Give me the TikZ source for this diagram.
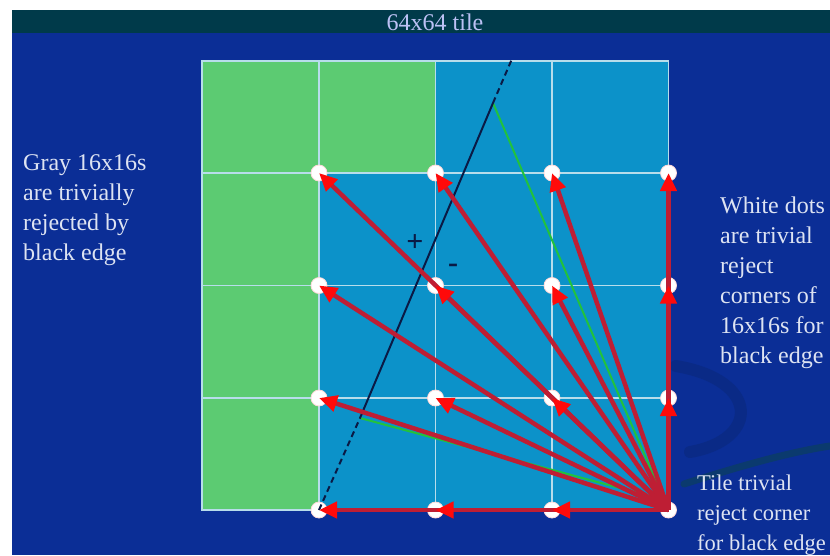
\documentclass[tikz,border=0pt]{standalone}
\usepackage{fontspec}
\setmainfont{Liberation Serif}
\usetikzlibrary{arrows.meta}
\definecolor{bgblue}{HTML}{0B2E96}
\definecolor{hdr}{HTML}{003A4A}
\definecolor{tgreen}{HTML}{5CCB72}
\definecolor{tblue}{HTML}{0C92C9}
\definecolor{gridc}{HTML}{B8DDEB}
\definecolor{arrline}{HTML}{BE1E34}
\definecolor{arrhead}{HTML}{FF0A0A}
\definecolor{edgec}{HTML}{0A1A45}
\definecolor{gline}{HTML}{22C23C}
\definecolor{txt}{HTML}{DDE3F2}
\definecolor{swooshc}{HTML}{0A2A86}
\definecolor{swoosht}{HTML}{0B3A6E}
\begin{document}
\begin{tikzpicture}[x=1pt,y=-1pt,
  dotnode/.style={circle, fill=white, draw=red!15!white, line width=0.8pt, minimum size=16pt, inner sep=0pt},
  arr/.style={draw=arrline, line width=4.5pt, -{Triangle[length=18pt,width=16pt,color=arrhead]}},
  gl/.style={draw=gline, line width=2pt},
  edgeline/.style={draw=edgec, line width=2pt},
  edgedash/.style={draw=edgec, line width=2pt, dashed, dash pattern=on 6pt off 4pt},
  label/.style={text=txt, font=\fontsize{24}{30}\selectfont, align=left, inner sep=0pt, anchor=base west},
  gridline/.style={draw=gridc, line width=1.3pt},
  sign/.style={text=edgec, font=\fontsize{30}{30}\selectfont\bfseries, inner sep=0pt}
]
\useasboundingbox (0,0) rectangle (830,555);
% background
\fill[white] (0,0) rectangle (830,555);
\fill[bgblue] (12,33) rectangle (830,555);
\fill[hdr] (12,10) rectangle (830,33);
% swooshes
\draw[swooshc, line width=12pt, line cap=round] (676,366) .. controls (760,380) and (760,440) .. (690,452);
\draw[swoosht, line width=7pt, line cap=round] (684,484) .. controls (740,466) and (790,452) .. (830,446);
\node[text=txt!85!blue, font=\fontsize{24}{26}\selectfont, inner sep=0pt] (title) at (435,22) {64x64 tile};
% tile
\fill[tblue] (202,61) rectangle (668.5,510);
\fill[tgreen] (202,61) rectangle (319,510);
\fill[tgreen] (319,61) rectangle (435.5,173);
\foreach \x in {319,435.5,552} \draw[gridline] (\x,61) -- (\x,510);
\foreach \y in {173,285.5,398} \draw[gridline] (202,\y) -- (668.5,\y);
\draw[gridline] (202,510) -- (202,61) -- (668.5,61) -- (668.5,510) -- cycle;
% dots
\foreach \c/\x in {1/319,2/435.5,3/552,4/668.5}
  \foreach \r/\y in {1/173,2/285.5,3/398,4/510}
    \node[dotnode] (d\c\r) at (\x,\y) {};
% triangle and edge
\coordinate (tA) at (493,103);
\coordinate (tB) at (360,418);
\coordinate (tC) at (664,500);
\coordinate (e0) at (319,510);
\coordinate (e1) at (511.5,60);
\draw[gl] (tA) -- (tC) -- (tB);
\draw[edgedash] (e0) -- (tB);
\draw[edgeline] (tB) -- (tA);
\draw[edgedash] (tA) -- (e1);
\node[sign] (plus) at (415,243) {+};
\node[sign] (minus) at (453,268) {-};
% arrows
\foreach \t in {11,21,31,41,12,22,32,42,13,23,33,43,14,24,34}
  \draw[arr] (d44.center) -- (d\t.center);
% labels
\node[label] (left) at (23,260) {Gray 16x16s\\are trivially\\rejected by\\black edge};
\node[label] (right) at (720,363) {White dots\\are trivial\\reject\\corners of\\16x16s for\\black edge};
\node[label, font=\fontsize{22.5}{30}\selectfont] (corner) at (697,550) {Tile trivial\\reject corner\\for black edge};
\end{tikzpicture}
\end{document}
